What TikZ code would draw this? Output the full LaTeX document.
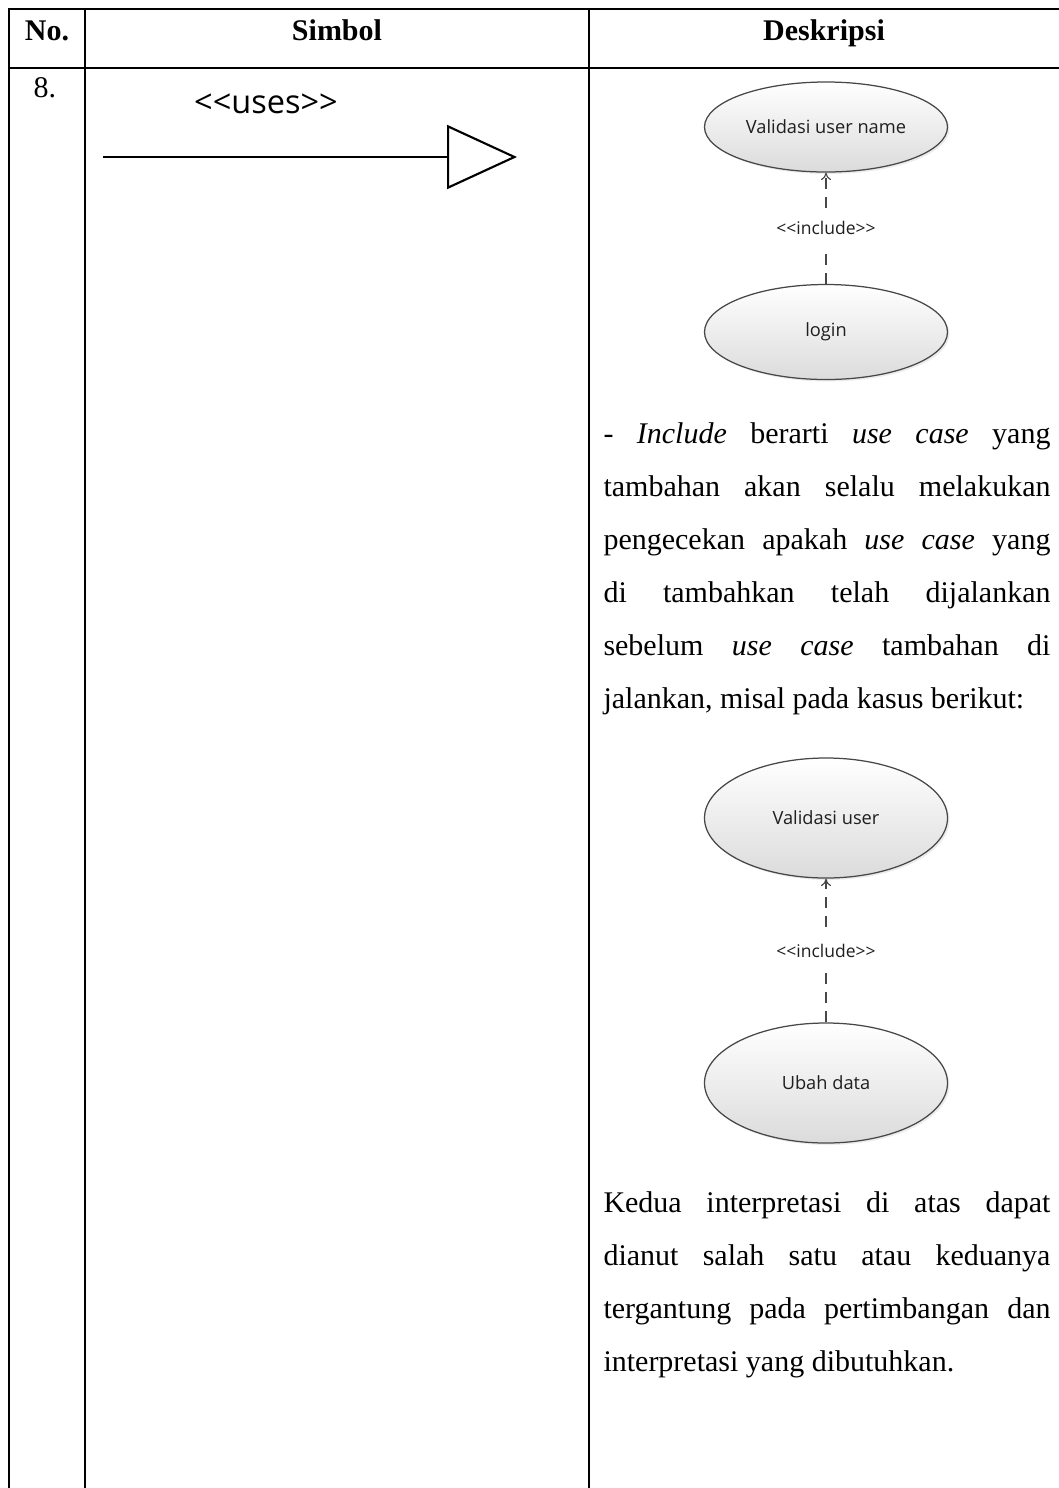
\documentclass[tikz,border=0pt]{standalone}
\usepackage{fontspec}
\setmainfont{Liberation Serif}
\newfontfamily\umlfont{Open Sans}
\usetikzlibrary{shapes.geometric,arrows.meta,shadows}

\newcommand{\stereo}[1]{<\kern0pt<#1>\kern0pt>}
\newcommand{\fullline}[1]{\makebox[178.8pt][s]{#1}}

\begin{document}
\begin{tikzpicture}
[x=0.4pt, y=-0.4pt,
 gridDecorate/.style={line width=0.8pt},
 headDecorate/.style={anchor=base, inner sep=0pt, font=\fontsize{12}{14}\selectfont\bfseries},
 textDecorate/.style={anchor=base west, inner sep=0pt, font=\fontsize{12}{14}\selectfont},
 caseDecorate/.style={shape=ellipse, draw=black!72, line width=0.5pt, top color=white, bottom color=black!14, minimum width=97.2pt, inner sep=0pt, font=\umlfont\fontsize{7.3}{9}\selectfont, text=black!88, drop shadow={opacity=0.15, shadow xshift=0.8pt, shadow yshift=-0.8pt}},
 includeDecorate/.style={-{To[length=3pt,width=4pt]}, draw=black!72, line width=0.45pt, dash pattern=on 4.4pt off 3.2pt},
 labelDecorate/.style={fill=white, inner xsep=1pt, inner ysep=5pt, font=\umlfont\fontsize{7}{8}\selectfont, text=black!88},
 usesDecorate/.style={-{Triangle[open, length=28pt, width=25.6pt]}, line width=0.85pt}]

 \useasboundingbox (0,0) rectangle (1059,1488);

 % table lines
 \draw[gridDecorate] (1059,9) -- (9,9) -- (9,1488);
 \draw[gridDecorate] (9,68) -- (1059,68);
 \draw[gridDecorate] (85,9) -- (85,1488);
 \draw[gridDecorate] (589,9) -- (589,1488);

 \node (noHead) at (47,40) [headDecorate] {No.};
 \node (simbolHead) at (337,40) [headDecorate] {Simbol};
 \node (deskHead) at (824,40) [headDecorate] {Deskripsi};
 \node (rowNo) at (45,97) [headDecorate, font=\fontsize{12}{14}\selectfont] {8.};

 % symbol
 \coordinate (usesTail) at (103,157);
 \coordinate (usesHead) at (517,157);
 \node (usesLabel) at (266,113) [anchor=base, inner sep=0pt, font=\umlfont\fontsize{13}{15}\selectfont] {\stereo{uses}};
 \draw[usesDecorate] (usesTail) -- (usesHead);

 % use case examples
 \node (valName) at (826,127) [caseDecorate, minimum height=36pt] {Validasi user name};
 \node (login) at (826,332) [caseDecorate, minimum height=38pt] {login};
 \node (valUser) at (826,818) [caseDecorate, minimum height=48pt] {Validasi user};
 \node (ubahData) at (826,1083) [caseDecorate, minimum height=48pt] {Ubah data};
\path
 (login) edge[includeDecorate] node[labelDecorate] {\stereo{include}} (valName)
 (ubahData) edge[includeDecorate] node[labelDecorate] {\stereo{include}} (valUser);

 % description text
 \foreach \i/\txt in {0/{- \textit{Include} berarti \textit{use case} yang},
                      1/{tambahan akan selalu melakukan},
                      2/{pengecekan apakah \textit{use case} yang},
                      3/{di tambahkan telah dijalankan},
                      4/{sebelum \textit{use case} tambahan di}}
 {
          \node (descA\i) at (603,443+53*\i) [textDecorate] {\fullline{\txt}};
 }
 \node (descA5) at (603,708) [textDecorate] {jalankan, misal pada kasus berikut:};
 \foreach \i/\txt in {0/{Kedua interpretasi di atas dapat},
                      1/{dianut salah satu atau keduanya},
                      2/{tergantung pada pertimbangan dan}}
 {
          \node (descB\i) at (603,1212+53*\i) [textDecorate] {\fullline{\txt}};
 }
 \node (descB3) at (603,1371) [textDecorate] {interpretasi yang dibutuhkan.};
\end{tikzpicture}
\end{document}
